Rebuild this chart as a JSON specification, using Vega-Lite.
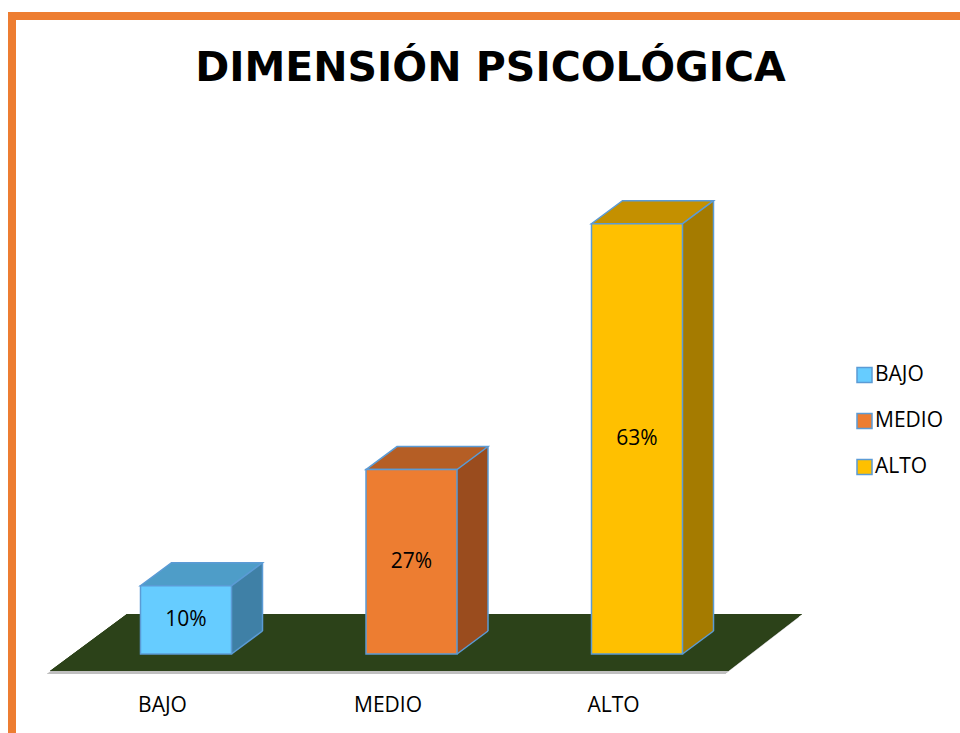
{
  "$schema": "https://vega.github.io/schema/vega-lite/v6.json",
  "width": 948,
  "height": 717,
  "autosize": {"type": "none"},
  "padding": {"left": 12, "top": 16, "right": 0, "bottom": 0},
  "background": "white",
  "config": {
    "view": {"stroke": "#ED7D31", "strokeWidth": 8, "strokeDash": [948, 1665, 717]},
    "text": {"font": "Open Sans", "color": "black"}
  },
  "title": {
    "text": "DIMENSIÓN PSICOLÓGICA",
    "font": "DejaVu Sans",
    "fontWeight": "bold",
    "fontSize": 41,
    "color": "black",
    "anchor": "middle",
    "frame": "group",
    "baseline": "alphabetic",
    "offset": 0,
    "dx": 4.5,
    "dy": 106
  },
  "data": {
    "values": [
      {"cat": "BAJO", "value": 10},
      {"cat": "MEDIO", "value": 27},
      {"cat": "ALTO", "value": 63}
    ]
  },
  "resolve": {"scale": {"fill": "independent"}},
  "layer": [
    {
      "mark": {"type": "point", "shape": "M-341,20L337,20L411,-37L-264,-37Z", "size": 4, "filled": true, "fill": "#BFBFBF", "strokeWidth": 0, "opacity": 1},
      "encoding": {
        "x": {"datum": "MEDIO", "type": "nominal", "scale": {"type": "band", "domain": ["BAJO", "MEDIO", "ALTO"], "range": [37.75, 714.25], "paddingInner": 0, "paddingOuter": 0}, "axis": null},
        "y": {"datum": 0, "type": "quantitative", "scale": {"domain": [-11.57, 93.41], "nice": false, "zero": false}, "axis": null}
      }
    },
    {
      "mark": {"type": "point", "shape": "M-338,17L340,17L414,-40L-261,-40Z", "size": 4, "filled": true, "fill": "#2C4219", "strokeWidth": 0, "opacity": 1},
      "encoding": {
        "x": {"datum": "MEDIO", "type": "nominal", "axis": null},
        "y": {"datum": 0, "type": "quantitative", "axis": null}
      }
    },
    {
      "mark": {"type": "bar", "width": 31, "xOffset": 84.5, "yOffset": -23, "y2Offset": -23, "strokeWidth": 0},
      "encoding": {
        "x": {"field": "cat", "type": "nominal", "sort": null, "axis": null},
        "y": {"field": "value", "type": "quantitative", "axis": null},
        "y2": {"datum": 0},
        "fill": {"field": "cat", "type": "nominal", "scale": {"domain": ["BAJO", "MEDIO", "ALTO"], "range": ["#3F80A6", "#9A4C1E", "#A57B00"]}, "legend": null}
      }
    },
    {
      "mark": {"type": "point", "shape": "M69,0L69,-23L100,-23Z", "size": 4, "filled": true, "strokeWidth": 0, "opacity": 1},
      "encoding": {
        "x": {"field": "cat", "type": "nominal", "sort": null, "axis": null},
        "y": {"datum": 0, "type": "quantitative", "axis": null},
        "fill": {"field": "cat", "type": "nominal", "scale": {"domain": ["BAJO", "MEDIO", "ALTO"], "range": ["#3F80A6", "#9A4C1E", "#A57B00"]}, "legend": null}
      }
    },
    {
      "mark": {"type": "rule", "xOffset": 100, "yOffset": -23, "y2Offset": -23, "stroke": "#5B9BD5", "strokeWidth": 1.5},
      "encoding": {
        "x": {"field": "cat", "type": "nominal", "sort": null, "axis": null},
        "y": {"field": "value", "type": "quantitative", "axis": null},
        "y2": {"datum": 0}
      }
    },
    {
      "mark": {"type": "point", "shape": "M100,-23L69,0", "size": 4, "filled": false, "fill": "transparent", "stroke": "#5B9BD5", "strokeWidth": 1.5, "opacity": 1},
      "encoding": {
        "x": {"field": "cat", "type": "nominal", "sort": null, "axis": null},
        "y": {"datum": 0, "type": "quantitative", "axis": null}
      }
    },
    {
      "mark": {"type": "point", "shape": "M-22,0L69,0L100,-23L9,-23Z", "size": 4, "filled": true, "stroke": "#5B9BD5", "strokeWidth": 1.5, "opacity": 1},
      "encoding": {
        "x": {"field": "cat", "type": "nominal", "sort": null, "axis": null},
        "y": {"field": "value", "type": "quantitative", "axis": null},
        "fill": {"field": "cat", "type": "nominal", "scale": {"domain": ["BAJO", "MEDIO", "ALTO"], "range": ["#4E9DC8", "#B55E25", "#C49000"]}, "legend": null}
      }
    },
    {
      "mark": {"type": "bar", "width": 91, "xOffset": 23.5, "stroke": "#5B9BD5", "strokeWidth": 1.5},
      "encoding": {
        "x": {"field": "cat", "type": "nominal", "sort": null, "axis": null},
        "y": {"field": "value", "type": "quantitative", "axis": null},
        "y2": {"datum": 0},
        "fill": {
          "field": "cat", "type": "nominal",
          "scale": {"domain": ["BAJO", "MEDIO", "ALTO"], "range": ["#66CCFF", "#ED7D31", "#FFC000"]},
          "legend": {
            "title": null,
            "orient": "none",
            "legendX": 842,
            "legendY": 348.5,
            "padding": 0,
            "symbolType": "square",
            "symbolSize": 225,
            "symbolStrokeColor": "#5B9BD5",
            "symbolStrokeWidth": 1.5,
            "symbolOpacity": 1,
            "labelFont": "Open Sans",
            "labelFontSize": 21,
            "labelColor": "black",
            "labelOffset": 0,
            "rowPadding": 24
          }
        }
      }
    },
    {
      "transform": [{"calculate": "datum.value / 2", "as": "mid"}, {"calculate": "datum.value + '%'", "as": "label"}],
      "mark": {"type": "text", "xOffset": 23.5, "baseline": "middle", "align": "center", "fontSize": 21, "font": "Open Sans"},
      "encoding": {
        "x": {"field": "cat", "type": "nominal", "sort": null, "axis": null},
        "y": {"field": "mid", "type": "quantitative", "axis": null},
        "text": {"field": "label"}
      }
    },
    {
      "mark": {"type": "text", "baseline": "alphabetic", "align": "center", "fontSize": 21, "font": "Open Sans"},
      "encoding": {
        "x": {"field": "cat", "type": "nominal", "sort": null, "axis": null},
        "y": {"datum": -8.5, "type": "quantitative", "axis": null},
        "text": {"field": "cat"}
      }
    }
  ]
}
